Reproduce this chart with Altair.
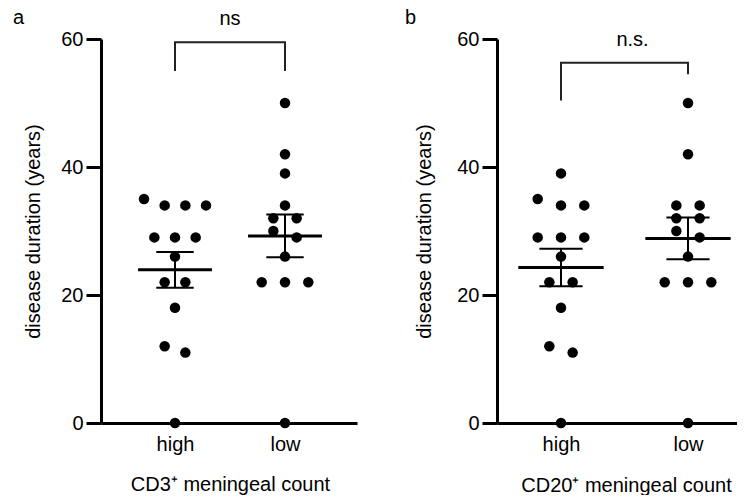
import altair as alt
import numpy as np
import pandas as pd

# ---------------- data ----------------
groups = ["high", "low"]
cd3_high = [35, 34, 34, 34, 29, 29, 29, 26, 22, 22, 18, 12, 11, 0]
cd3_low = [50, 42, 39, 34, 32, 32, 30, 29, 26, 22, 22, 22, 0]
cd20_high = [39, 35, 34, 34, 29, 29, 29, 26, 22, 22, 18, 12, 11, 0]
cd20_low = [50, 42, 34, 34, 32, 32, 30, 29, 26, 22, 22, 22, 0]

y_ticks = [0, 20, 40, 60]
panel_letters = ["a", "b"]
x_titles = ["CD3\u207a meningeal count", "CD20\u207a meningeal count"]
y_title = "disease duration (years)"
sig_labels = ["ns", "n.s."]
sig_label_y = [62.2, 58.9]
bracket_top = [59.5, 56.3]
bracket_left_end = [55.0, 50.4]
bracket_right_end = [55.0, 54.5]

FONT = "Liberation Sans"
H = 384


def swarm(values, gpos, ppu, width_cap=62.0, base_sp=23.3):
    vals = sorted(values, reverse=True)
    rows = []
    for v in vals:
        if rows and rows[-1][0] - v <= 1:
            rows[-1].append(v)
        else:
            rows.append([v])
    maxrow = max(len(r) for r in rows)
    sp = min(base_sp, width_cap / (maxrow - 1)) if maxrow > 1 else base_sp
    out = []
    for r in rows:
        n = len(r)
        for i, v in enumerate(r):
            out.append({"x": gpos + (i - (n - 1) / 2) * sp / ppu, "y": v})
    return out


def panel(high, low, idx, width, x0, ppu, letter_x, ytitle_x, xtitle_x, xtitle_y, label_x):
    x_dom = [x0, x0 + width / ppu]
    pts = pd.DataFrame(swarm(high, 1, ppu) + swarm(low, 2, ppu))

    stats = []
    for g, vals in zip([1, 2], [high, low]):
        a = np.array(vals, dtype=float)
        m = a.mean()
        se = a.std(ddof=1) / np.sqrt(len(a))
        stats.append({"g": g, "m": m, "lo": m - se, "hi": m + se,
                      "ml": g - 0.336, "mr": g + 0.336,
                      "cl": g - 0.17, "cr": g + 0.17})
    st = pd.DataFrame(stats)

    xs = alt.Scale(domain=x_dom, nice=False, zero=False)
    ys = alt.Scale(domain=[0, 60], nice=False, zero=False)

    label_expr = "datum.value == 1 ? '%s' : '%s'" % (groups[0], groups[1])
    xaxis = alt.Axis(values=[1, 2], labelExpr=label_expr, ticks=False, grid=False,
                     domainWidth=3, domainColor="black", labelFontSize=20,
                     labelColor="black", labelFont=FONT, labelPadding=11,
                     title=x_titles[idx], titleFont=FONT, titleFontSize=20,
                     titleFontWeight="normal", titleColor="black",
                     titleX=xtitle_x, titleY=xtitle_y, titleBaseline="alphabetic",
                     titleAlign="center")
    yaxis = alt.Axis(values=y_ticks, grid=False, tickSize=15, tickWidth=3,
                     tickColor="black", domainWidth=3, domainColor="black",
                     labelFontSize=20, labelColor="black", labelFont=FONT,
                     labelPadding=3, title=y_title, titleFont=FONT,
                     titleFontSize=20, titleFontWeight="normal",
                     titleColor="black", titleX=ytitle_x, titleY=H / 2,
                     titleBaseline="alphabetic", titleAlign="center", titleAngle=270)

    def X(f):
        return alt.X(f, scale=xs, axis=xaxis)

    def Y(f):
        return alt.Y(f, scale=ys, axis=yaxis)

    points = alt.Chart(pts).mark_circle(size=110, color="black", opacity=1).encode(
        x=X("x:Q"), y=Y("y:Q"))
    mean_line = alt.Chart(st).mark_rule(strokeWidth=3, color="black").encode(
        x=X("ml:Q"), x2="mr:Q", y=Y("m:Q"))
    sem_line = alt.Chart(st).mark_rule(strokeWidth=2, color="black").encode(
        x=X("g:Q"), y=Y("lo:Q"), y2="hi:Q")
    cap_lo = alt.Chart(st).mark_rule(strokeWidth=2, color="black").encode(
        x=X("cl:Q"), x2="cr:Q", y=Y("lo:Q"))
    cap_hi = alt.Chart(st).mark_rule(strokeWidth=2, color="black").encode(
        x=X("cl:Q"), x2="cr:Q", y=Y("hi:Q"))

    br = pd.DataFrame({
        "x": [1, 1, 2, 2],
        "y": [bracket_left_end[idx], bracket_top[idx], bracket_top[idx], bracket_right_end[idx]],
        "o": [0, 1, 2, 3],
    })
    bracket = alt.Chart(br).mark_line(color="#222222", strokeWidth=2, strokeJoin="miter").encode(
        x=X("x:Q"), y=Y("y:Q"), order="o:Q")

    sig = alt.Chart(pd.DataFrame({"x": [label_x], "y": [sig_label_y[idx]], "t": [sig_labels[idx]]})).mark_text(
        fontSize=20, font=FONT, color="black", baseline="alphabetic", align="center").encode(
        x=X("x:Q"), y=Y("y:Q"), text="t:N")

    letter = alt.Chart(pd.DataFrame({"t": [panel_letters[idx]]})).mark_text(
        fontSize=20, font=FONT, color="black", baseline="alphabetic", align="left").encode(
        x=alt.value(letter_x), y=alt.value(-15), text="t:N")

    return alt.layer(points, mean_line, sem_line, cap_lo, cap_hi, bracket, sig, letter).properties(
        width=width, height=H)


pa = panel(cd3_high, cd3_low, 0, 256, 1 - 74 / 110, 110, -88, -62, 129, 67, 1.5)
pb = panel(cd20_high, cd20_low, 1, 240, 1 - 64 / 127, 127, -92, -67, 129, 68, 1.563)

chart = alt.hconcat(pa, pb, spacing=140, bounds="flush").properties(
    padding={"left": 5, "top": 0, "right": 0, "bottom": 0}
).configure(font=FONT).configure_view(stroke=None)

chart.save("out.html", embed_options={"renderer": "svg", "actions": False})
